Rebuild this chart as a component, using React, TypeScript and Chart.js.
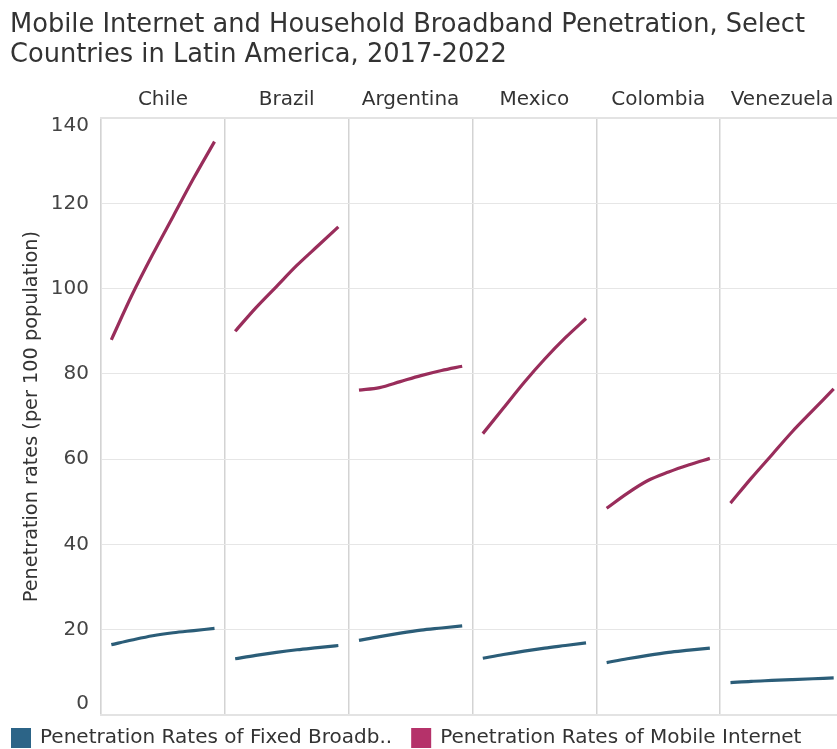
import React, { useEffect, useRef } from "react";
import { Chart, registerables } from "chart.js";

Chart.register(...registerables);

const countries = ["Chile", "Brazil", "Argentina", "Mexico", "Colombia", "Venezuela"];
const years = [2017, 2018, 2019, 2020, 2021, 2022];

// Penetration per 100 inhabitants, one row per country, 2017..2022
const mobileInternet = [
  [88, 98.5, 108, 117, 126, 134.5],
  [90, 95.5, 100.5, 105.5, 110, 114.5],
  [76.2, 76.8, 78.2, 79.6, 80.8, 81.8],
  [66, 72, 78, 83.5, 88.5, 93],
  [48.5, 52, 55, 57, 58.7, 60.2],
  [49.7, 55.5, 61, 66.5, 71.5, 76.5],
];
const fixedBroadband = [
  [16.5, 17.6, 18.6, 19.3, 19.8, 20.3],
  [13.2, 14, 14.7, 15.3, 15.8, 16.3],
  [17.5, 18.4, 19.2, 19.9, 20.4, 20.9],
  [13.3, 14.2, 15, 15.7, 16.3, 16.9],
  [12.3, 13.2, 14, 14.7, 15.2, 15.7],
  [7.6, 7.9, 8.1, 8.3, 8.5, 8.7],
];
const yTicks = [0, 20, 40, 60, 80, 100, 120, 140];

const seriesLabels = ["Penetration Rates of Fixed Broadb..", "Penetration Rates of Mobile Internet"];
const titleLines = [
  "Mobile Internet and Household Broadband Penetration, Select",
  "Countries in Latin America, 2017-2022",
];

const FONT = "'DejaVu Sans', Verdana, sans-serif";
const TICK_SIZE = 20;
const LABEL_SIZE = 20;
const VISIBLE_WIDTH = 829;
const BLUE_LINE = "#2b5d78";
const BLUE_BOX = "#2c6487";
const PINK_LINE = "#992d5b";
const PINK_BOX = "#b5326a";

// each country gets a panel spanning six x units: [i*6, i*6+6]
const PANEL = 6;
const firstYear = years[0] - 0.5;

function panelPoints(rows: number[][]) {
  const pts: { x: number; y: number | null }[] = [];
  rows.forEach((row, i) => {
    row.forEach((v, j) => {
      pts.push({ x: i * PANEL + (years[j] - firstYear), y: v });
    });
    pts.push({ x: i * PANEL + PANEL, y: null });
  });
  return pts;
}

// y tick labels, kept inside the plot's vertical extent at both ends,
// and panel headers, kept inside the visible width
const labelPlugin = {
  id: "panelLabels",
  afterDraw(chart: any) {
    const ctx = chart.ctx;
    const y = chart.scales.y;
    const top = chart.scales.xTop;
    ctx.save();
    ctx.font = `${TICK_SIZE}px ${FONT}`;
    ctx.fillStyle = "#444";
    ctx.textAlign = "right";
    ctx.textBaseline = "middle";
    const half = TICK_SIZE * 0.45;
    yTicks.forEach((v) => {
      let py = y.getPixelForValue(v);
      py = Math.max(y.top + half - 1, Math.min(y.bottom - half - 2, py));
      ctx.fillText(String(v), y.right - 12, py);
    });

    ctx.font = `${LABEL_SIZE}px ${FONT}`;
    ctx.fillStyle = "#333";
    ctx.textAlign = "center";
    countries.forEach((name, i) => {
      const w = ctx.measureText(name).width;
      let px = top.getPixelForValue(i * PANEL + PANEL / 2);
      px = Math.min(px, VISIBLE_WIDTH - 3 - w / 2);
      ctx.fillText(name, px, top.bottom - 18);
    });
    ctx.restore();
  },
};

// legend row along the bottom edge
const legendPlugin = {
  id: "bottomLegend",
  afterDraw(chart: any) {
    const ctx = chart.ctx;
    const box = 20;
    const cy = chart.height - 11;
    let x = 3;
    ctx.save();
    ctx.font = `20px ${FONT}`;
    ctx.textBaseline = "middle";
    ctx.textAlign = "left";
    chart.data.datasets.forEach((ds: any) => {
      ctx.fillStyle = ds.backgroundColor;
      ctx.fillRect(x, cy - box / 2, box, box);
      ctx.fillStyle = "#333";
      ctx.fillText(ds.label, x + box + 9, cy);
      x += box + 9 + ctx.measureText(ds.label).width + 19;
    });
    ctx.restore();
  },
};

export default function App() {
  const ref = useRef<HTMLCanvasElement | null>(null);

  useEffect(() => {
    if (!ref.current) return;
    const chart = new Chart(ref.current, {
      type: "line",
      data: {
        datasets: [
          {
            label: seriesLabels[0],
            data: panelPoints(fixedBroadband) as any,
            borderColor: BLUE_LINE,
            backgroundColor: BLUE_BOX,
            borderWidth: 3.2,
            pointRadius: 0,
            cubicInterpolationMode: "monotone",
            spanGaps: false,
            xAxisID: "x",
          },
          {
            label: seriesLabels[1],
            data: panelPoints(mobileInternet) as any,
            borderColor: PINK_LINE,
            backgroundColor: PINK_BOX,
            borderWidth: 3.2,
            pointRadius: 0,
            cubicInterpolationMode: "monotone",
            spanGaps: false,
            xAxisID: "x",
          },
        ],
      },
      options: {
        animation: false,
        responsive: false,
        layout: { padding: { left: 2, right: 0, top: 2, bottom: 34 } },
        plugins: {
          title: {
            display: true,
            text: titleLines,
            align: "start",
            color: "#333",
            font: { family: FONT, size: 25.7, weight: "normal", lineHeight: 1.17 },
            padding: { top: 0, bottom: 12 },
          },
          legend: { display: false },
          tooltip: { enabled: false },
        },
        scales: {
          x: {
            type: "linear",
            position: "bottom",
            min: 0,
            max: countries.length * PANEL,
            afterBuildTicks: (s: any) => {
              s.ticks = countries.map((_, i) => ({ value: i * PANEL })).concat([{ value: countries.length * PANEL }]);
            },
            ticks: { display: false },
            grid: { color: "#d3d3d3", lineWidth: 1.5, drawTicks: false },
            border: { color: "#e3e3e3", width: 2 },
          },
          xTop: {
            type: "linear",
            position: "top",
            min: 0,
            max: countries.length * PANEL,
            afterBuildTicks: (s: any) => {
              s.ticks = countries.map((_, i) => ({ value: i * PANEL + PANEL / 2 }));
            },
            ticks: {
              color: "rgba(0,0,0,0)",
              font: { family: FONT, size: LABEL_SIZE },
              padding: 6,
              maxRotation: 0,
              autoSkip: false,
              callback: (_v: any, i: number) => countries[i],
            },
            grid: { display: false, drawTicks: false },
            border: { color: "#e3e3e3", width: 2 },
          },
          y: {
            min: 0,
            max: 140,
            afterBuildTicks: (s: any) => {
              s.ticks = yTicks.map((v) => ({ value: v }));
            },
            afterFit: (s: any) => {
              s.width = 91;
            },
            ticks: {
              color: "rgba(0,0,0,0)",
              font: { family: FONT, size: TICK_SIZE },
              padding: 12,
            },
            grid: { color: "#e6e6e6", drawTicks: false },
            border: { color: "#e3e3e3", width: 1 },
            title: {
              display: true,
              text: "Penetration rates (per 100 population)",
              color: "#333",
              font: { family: FONT, size: 19.3 },
              padding: { top: 10, bottom: 0 },
            },
          },
        },
      },
      plugins: [labelPlugin, legendPlugin],
    });
    return () => chart.destroy();
  }, []);

  return (
    <>
      <style>{"body { margin: 0; }"}</style>
      <div style={{ padding: "8px 0 0 8px", width: VISIBLE_WIDTH, height: 741, overflow: "hidden" }}>
        <canvas ref={ref} width={836} height={741} style={{ display: "block" }} />
      </div>
    </>
  );
}
